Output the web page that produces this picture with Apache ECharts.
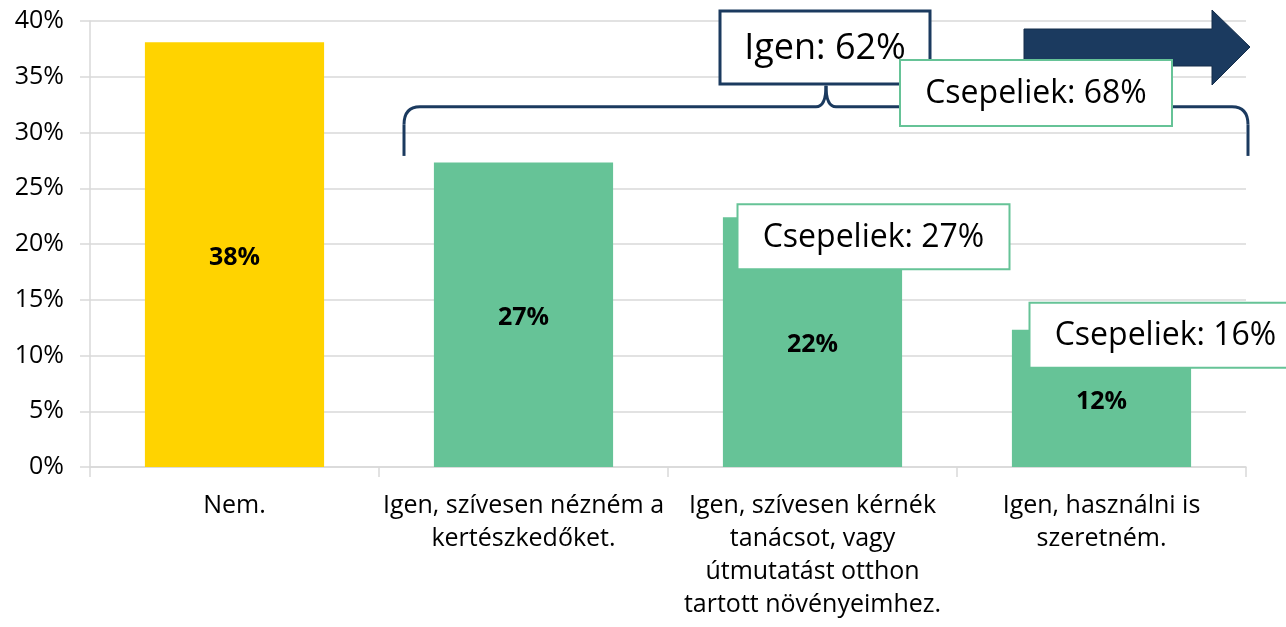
<!DOCTYPE html>
<html>
<head>
<meta charset="utf-8">
<script src="https://cdn.jsdelivr.net/npm/echarts@6/dist/echarts.min.js"></script>
<style>
html, body { margin: 0; padding: 0; background: #fff; }
#main { width: 1286px; height: 627px; }
</style>
</head>
<body>
<div id="main"></div>
<script>
// adatok
var categories = [
    'Nem.',
    'Igen, szívesen nézném a\nkertészkedőket.',
    'Igen, szívesen kérnék\ntanácsot, vagy\nútmutatást otthon\ntartott növényeimhez.',
    'Igen, használni is\nszeretném.'
];
var values = [38.1, 27.3, 22.4, 12.3];
var barColors = ['#FFD300', '#66C397', '#66C397', '#66C397'];
var csepelValues = [null, null, 27, 16];   // Csepeliek, kategóriánként
var igenTotal = 62;
var csepelTotal = 68;

var navy = '#1B3A5F';
var green = '#66C397';
var font = '"Open Sans", sans-serif';

var myChart = echarts.init(document.getElementById('main'));

var option = {
    animation: false,
    textStyle: { fontFamily: font },
    grid: { left: 90, right: 40, top: 21, bottom: 160 },
    xAxis: {
        type: 'category',
        data: categories,
        axisLine: { lineStyle: { color: '#d9d9d9', width: 1.5 } },
        axisTick: { show: true, length: 10, lineStyle: { color: '#d9d9d9', width: 1.5 } },
        axisLabel: {
            color: '#000',
            fontSize: 25,
            lineHeight: 33,
            margin: 22,
            interval: 0
        }
    },
    yAxis: {
        type: 'value',
        min: 0,
        max: 40,
        interval: 5,
        axisLine: { show: true, lineStyle: { color: '#d9d9d9', width: 1.5 } },
        axisTick: { show: true, length: 10, lineStyle: { color: '#d9d9d9', width: 1.5 } },
        splitLine: { lineStyle: { color: '#d9d9d9', width: 1.5 } },
        axisLabel: {
            color: '#000',
            fontSize: 25,
            margin: 26,
            formatter: '{value}%'
        }
    },
    series: [{
        type: 'bar',
        barWidth: '62%',
        data: values.map(function (v, i) {
            return { value: v, itemStyle: { color: barColors[i] } };
        }),
        label: {
            show: true,
            position: 'inside',
            color: '#000',
            fontWeight: 'bold',
            fontSize: 25,
            offset: [0, 3],
            formatter: function (p) { return Math.round(p.value) + '%'; }
        }
    }]
};

myChart.setOption(option);

// feliratos doboz
function box(x, y, w, h, text, stroke, lw, size) {
    return {
        type: 'group',
        zlevel: 1,
        children: [
            { type: 'rect', zlevel: 1, z: 10, shape: { x: x, y: y, width: w, height: h },
              style: { fill: '#fff', stroke: stroke, lineWidth: lw } },
            { type: 'text', zlevel: 1, z: 11, style: { x: x + w / 2, y: y + h / 2 + 1, text: text,
              align: 'center', verticalAlign: 'middle', fill: '#000',
              font: size + 'px ' + font } }
        ]
    };
}

function pt(i, v) {
    return myChart.convertToPixel({ gridIndex: 0 }, [i, v]);
}

function seg(x1, y1, x2, y2) {
    return { type: 'line', zlevel: 1, shape: { x1: x1, y1: y1, x2: x2, y2: y2 },
             style: { stroke: navy, lineWidth: 3 } };
}
function curve(x1, y1, cx, cy, x2, y2) {
    return { type: 'bezierCurve', zlevel: 1, shape: { x1: x1, y1: y1, cpx1: cx, cpy1: cy, x2: x2, y2: y2 },
             style: { stroke: navy, lineWidth: 3, fill: null } };
}

var c1 = pt(1, 0), c0 = pt(0, 0), c3 = pt(3, 0);
var step = c1[0] - c0[0];
var bl = (c0[0] + c1[0]) / 2 + 25;          // kapcsos zárójel bal széle
var br = c3[0] + step / 2 + 2;              // jobb széle
var by = pt(0, 27.9)[1];                    // alja
var ty = pt(0, 32.3)[1];                    // vízszintes vonal
var mx = 826;                               // csúcs
var peak = ty - 21;

var graphics = [
    seg(bl, by, bl, ty + 18),
    curve(bl, ty + 18, bl, ty, bl + 16, ty),
    seg(bl + 16, ty, mx - 10, ty),
    curve(mx - 10, ty, mx, ty, mx, peak),
    curve(mx, peak, mx, ty, mx + 10, ty),
    seg(mx + 10, ty, br - 16, ty),
    curve(br - 16, ty, br, ty, br, ty + 18),
    seg(br, ty + 18, br, by)
];

// nyíl
graphics.push({
    type: 'polygon',
    zlevel: 1,
    shape: { points: [[1024, 29], [1212, 29], [1212, 10], [1250, 47], [1212, 85], [1212, 66], [1024, 66]] },
    style: { fill: navy, stroke: '#142d4a', lineWidth: 1 }
});

graphics.push(box(720, 11, 210, 73, 'Igen: ' + igenTotal + '%', navy, 3, 36));
graphics.push(box(900, 60, 272, 66, 'Csepeliek: ' + csepelTotal + '%', green, 2, 32));

csepelValues.forEach(function (cv, i) {
    if (cv == null) return;
    var p = pt(i, values[i]);
    var x, y;
    if (i === 2) { x = p[0] - 75; y = p[1] - 13; }
    else { x = p[0] - 72; y = p[1] - 27; }
    graphics.push(box(x, y, 272, 65, 'Csepeliek: ' + cv + '%', green, 2, 32));
});

myChart.setOption({ graphic: graphics });
</script>
</body>
</html>
